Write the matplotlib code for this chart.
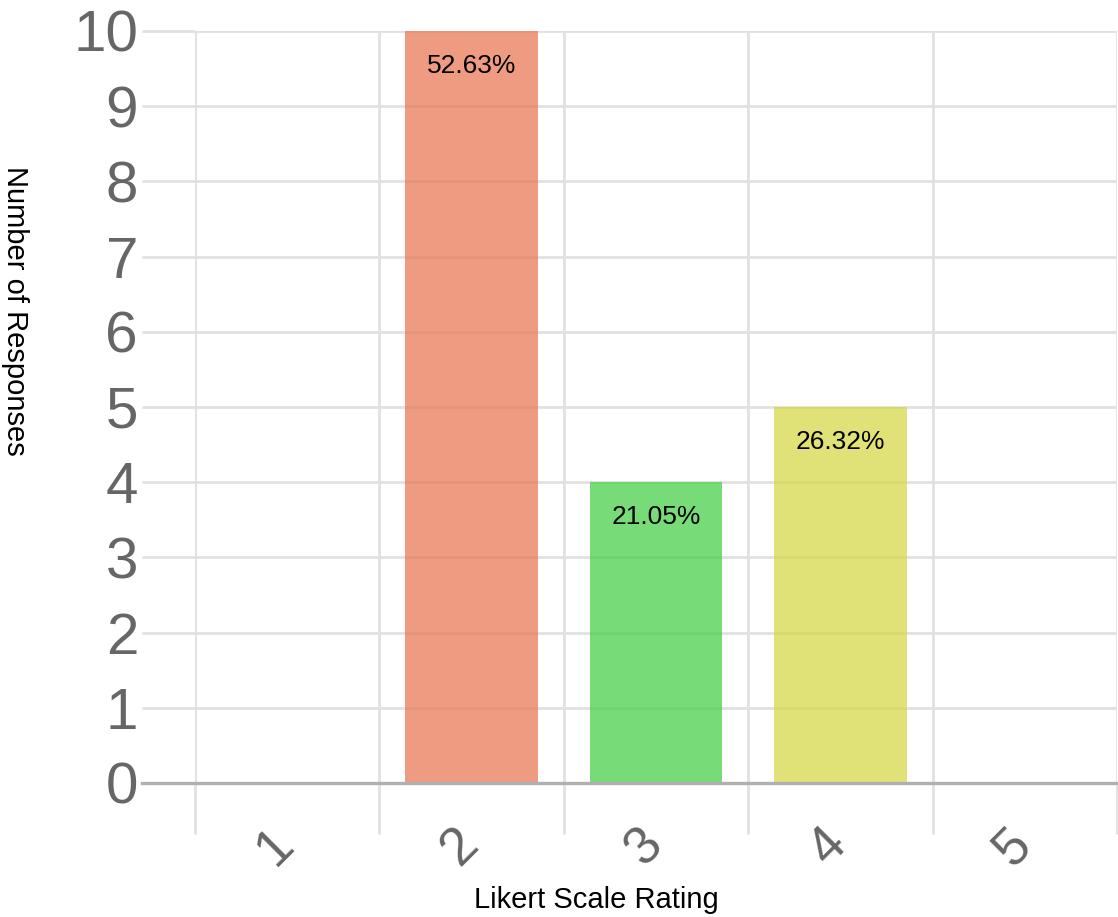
import matplotlib
matplotlib.use('Agg')
import matplotlib.pyplot as plt
import matplotlib.transforms as mtransforms

# Likert survey results
ratings = [1, 2, 3, 4, 5]
tick_labels = ['1', '2', '3', '4', '5']
counts = [0, 10, 4, 5, 0]
bar_colors = ['#EC6F4F', '#EA7551', '#43CE43', '#D4D743', '#5A9BD5']

plt.rcParams['font.family'] = ['Liberation Sans', 'DejaVu Sans']

fig = plt.figure(figsize=(11.18, 9.17), dpi=100)
ax = fig.add_axes([195 / 1118, 1 - 783 / 917, (1117 - 195) / 1118, (783 - 31) / 917])

total = sum(counts)
bars = ax.bar(ratings, counts, width=0.72, color=bar_colors, alpha=0.72,
              linewidth=0, zorder=2)

# percentage labels inside the top of each bar
for rect, n in zip(bars, counts):
    if n == 0:
        continue
    pct = n / total * 100
    ax.annotate(f'{pct:.2f}%', (rect.get_x() + rect.get_width() / 2, n),
                xytext=(0, -25), textcoords='offset points',
                ha='center', va='center', fontsize=19, color='black', zorder=3)

ax.set_xlim(0.5, 5.5)
ax.set_ylim(0, 10)

grid_col = '#e1e1e1'
for s in ax.spines.values():
    s.set_visible(False)

ax.set_yticks(range(0, 11))
ax.set_xticks(ratings)
ax.set_xticklabels(tick_labels)
ax.set_xticks([r + 0.5 for r in [0] + ratings], minor=True)

ax.grid(axis='y', color=grid_col, linewidth=2.0, zorder=0)
ax.grid(axis='x', which='minor', color=grid_col, linewidth=2.0, zorder=0)
ax.set_axisbelow(True)

ax.tick_params(axis='y', length=38, width=2.0, color=grid_col, pad=3,
               labelsize=42, labelcolor='#666666')
ax.tick_params(axis='x', which='major', length=0, pad=46,
               labelsize=38, labelcolor='#666666')
ax.tick_params(axis='x', which='minor', length=37, width=2.0, color=grid_col)

shift = mtransforms.ScaledTranslation(-12 / 100, 0, fig.dpi_scale_trans)
for lab in ax.get_xticklabels():
    lab.set_rotation(45)
    lab.set_ha('center')
    lab.set_va('center')
    lab.set_rotation_mode('anchor')
    lab.set_transform(lab.get_transform() + shift)

# darker zero line, running through the tick area on the left
ax.axhline(0, xmin=-53 / 922, xmax=1, color='#b0b0b0', linewidth=2.4,
           zorder=4, clip_on=False)

fig.text(15 / 1118, 1 - 311 / 917, 'Number of Responses', rotation=270,
         ha='center', va='center', fontsize=21, color='black')
fig.text(596 / 1118, 1 - 900 / 917, 'Likert Scale Rating',
         ha='center', va='center', fontsize=21, color='black')

fig.savefig('out.png', dpi=100)
